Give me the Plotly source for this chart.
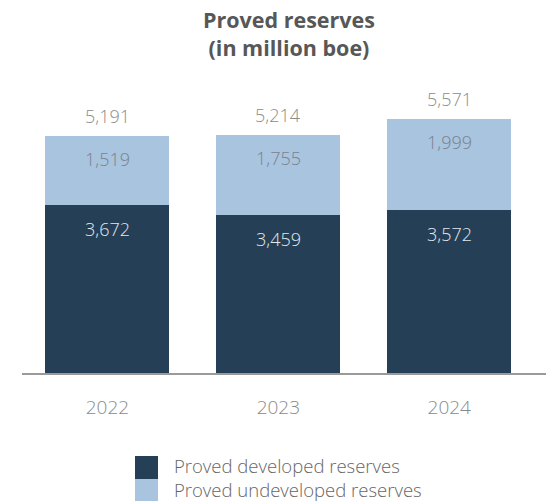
import plotly.graph_objects as go

years = ["2022", "2023", "2024"]
developed = [3672, 3459, 3572]
undeveloped = [1519, 1755, 1999]
totals = [5191, 5214, 5571]
series_names = ["Proved developed reserves", "Proved undeveloped reserves"]

DARK = "#243f56"
LIGHT = "#a8c4df"
FONT = "Open Sans"

fig = go.Figure()
fig.add_bar(x=years, y=developed, marker=dict(color=DARK, line=dict(width=0)), width=0.726,
            name=series_names[0], hoverinfo="skip")
fig.add_bar(x=years, y=undeveloped, marker=dict(color=LIGHT, line=dict(width=0)), width=0.726,
            name=series_names[1], hoverinfo="skip")

anns = []
for i, (d, u, t) in enumerate(zip(developed, undeveloped, totals)):
    anns.append(dict(x=i, y=t, xref="x", yref="y", text=f"{t:,}", showarrow=False,
                     yanchor="middle", yshift=20,
                     font=dict(family=FONT, size=18, color="#8c8c8c", weight=300)))
    anns.append(dict(x=i, y=t, xref="x", yref="y", text=f"{u:,}", showarrow=False,
                     yanchor="middle", yshift=-23,
                     font=dict(family=FONT, size=18, color="#7a8290", weight=300)))
    anns.append(dict(x=i, y=d, xref="x", yref="y", text=f"{d:,}", showarrow=False,
                     yanchor="middle", yshift=-24,
                     font=dict(family=FONT, size=18, color="#e3e8ec", weight=300)))

# title
anns.append(dict(xref="paper", yref="paper", x=(289 - 22) / 524, y=(373 - 33) / 313,
                 xanchor="center", yanchor="middle",
                 text="<b>Proved reserves</b><br><b>(in million boe)</b>", showarrow=False,
                 font=dict(family=FONT, size=21.5, color="#575757")))

# legend (manual, larger swatches)
shapes = []
leg_colors = [DARK, LIGHT]
for i, c in enumerate(leg_colors):
    y0 = 456 + i * 23
    shapes.append(dict(type="rect", xref="paper", yref="paper", layer="above",
                       x0=(135 - 22) / 524, x1=(158 - 22) / 524,
                       y0=(373 - (y0 + 23)) / 313, y1=(373 - y0) / 313,
                       fillcolor=c, line=dict(width=0)))
anns.append(dict(xref="paper", yref="paper", x=(172 - 22) / 524, y=(373 - 477.5) / 313,
                 xanchor="left", yanchor="middle", align="left",
                 text="<br>".join(series_names), showarrow=False,
                 font=dict(family=FONT, size=18.5, color="#666666", weight=300)))

fig.update_layout(
    width=546, height=501,
    margin=dict(l=22, r=0, t=60, b=128),
    barmode="stack",
    paper_bgcolor="white", plot_bgcolor="white",
    showlegend=False,
    xaxis=dict(type="category", range=[-0.5, 2.566], showgrid=False, zeroline=False, showline=True,
               linecolor="#9a9a9a", linewidth=1.5, ticks="", ticklabelstandoff=16,
               tickfont=dict(family=FONT, size=19, color="#8a8a8a", weight=300)),
    yaxis=dict(range=[0, 6855], visible=False),
    annotations=anns,
    shapes=shapes,
)

fig.write_html("out.html")
